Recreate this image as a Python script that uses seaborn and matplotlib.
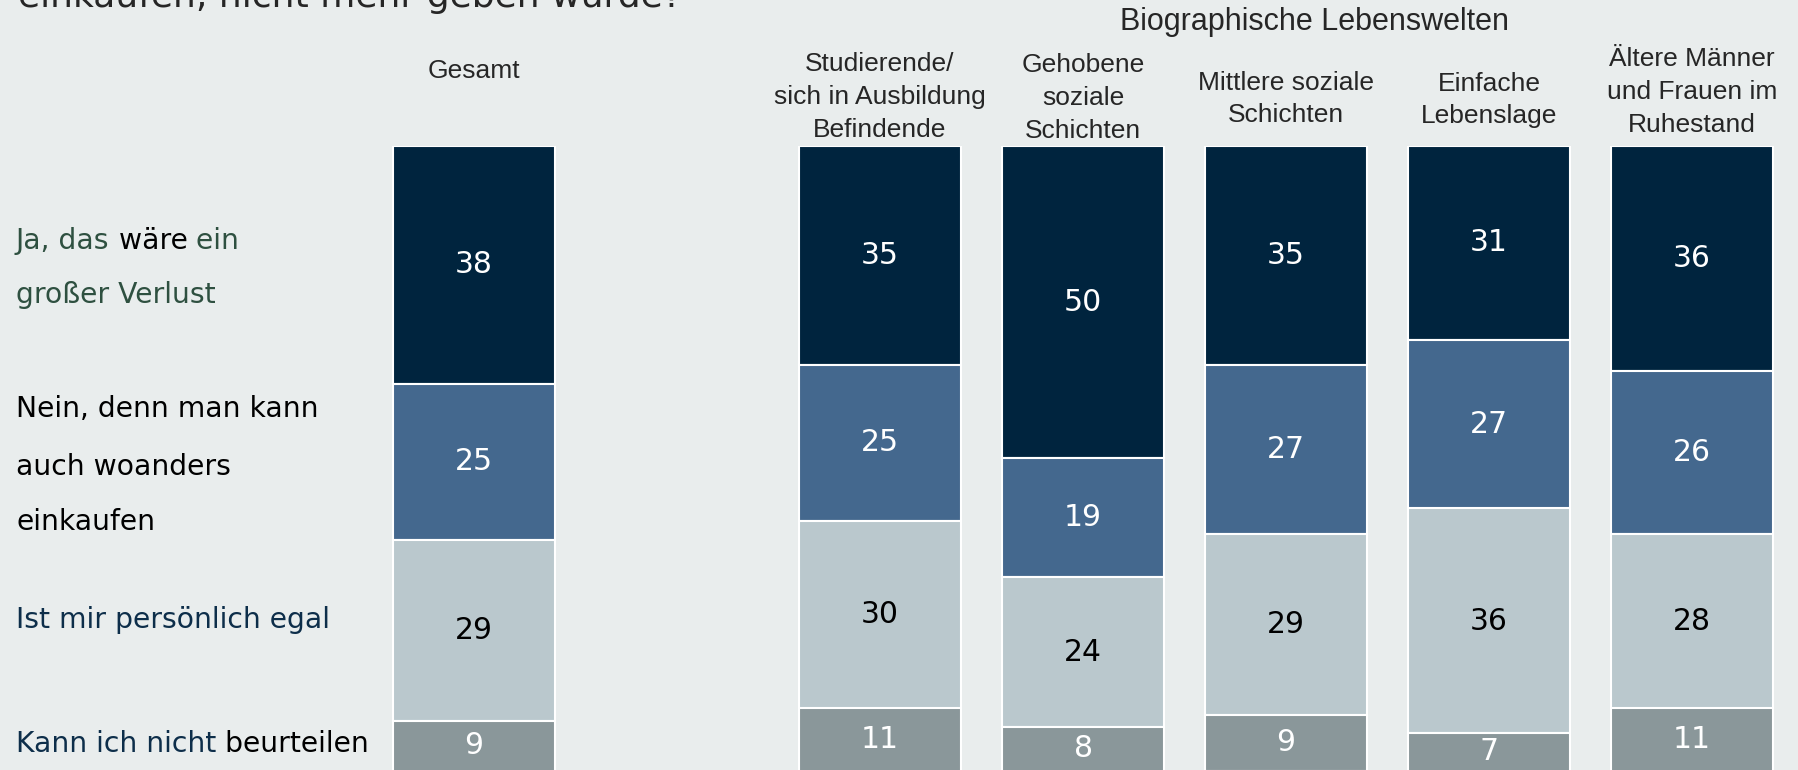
import matplotlib.pyplot as plt
import pandas as pd
import seaborn as sns

# data (percent)
groups = [
    "Gesamt",
    "Studierende/\nsich in Ausbildung\nBefindende",
    "Gehobene\nsoziale\nSchichten",
    "Mittlere soziale\nSchichten",
    "Einfache\nLebenslage",
    "Ältere Männer\nund Frauen im\nRuhestand",
]
answers = ["ja", "nein", "egal", "weiss_nicht"]
ja = [38, 35, 50, 35, 31, 36]
nein = [25, 25, 19, 27, 27, 26]
egal = [29, 30, 24, 29, 36, 28]
weiss_nicht = [9, 11, 8, 9, 7, 11]

title_rest = "einkaufen, nicht mehr geben würde?"
group_title = "Biographische Lebenswelten"

GREEN = "#2e5040"
NAVY_TXT = "#0d2e4a"
legend_lines = [
    [("Ja, das", GREEN), (" wäre", "black"), (" ein", GREEN)],
    [("großer Verlust", GREEN)],
    [("Nein, denn man kann", "black")],
    [("auch woanders", "black")],
    [("einkaufen", "black")],
    [("Ist mir persönlich egal", NAVY_TXT)],
    [("Kann ich nicht", NAVY_TXT), (" beurteilen", "black")],
]

# layout
W, H = 1798, 770
slots = [0, 2, 3, 4, 5, 6]
colors = ["#00243e", "#44688e", "#bac8cd", "#8a979a"]
label_colors = ["white", "white", "black", "white"]
legend_y = [241, 295, 409, 467, 522, 620, 744]
header_y = [71, 97, 98, 99, 100, 92]
BG = "#e9eded"
HEAD_FONT = ["Liberation Sans", "DejaVu Sans"]

sns.set_style("white")
plt.rcParams["font.family"] = ["DejaVu Sans"]

fig = plt.figure(figsize=(W / 100, H / 100), dpi=100, facecolor=BG)
top_px = 146
ax = fig.add_axes([0, 0, 1, (H - top_px) / H])
ax.set_facecolor(BG)

series = dict(ja=ja, nein=nein, egal=egal, weiss_nicht=weiss_nicht)
df = pd.DataFrame(
    [
        dict(group=g, pos=s, answer=a, value=series[a][i])
        for a in answers
        for i, (g, s) in enumerate(zip(groups, slots))
    ]
)

bottom = [0] * len(groups)
for k, a in enumerate(answers):
    sub = df[df["answer"] == a].sort_values("pos")
    sns.barplot(
        data=sub, x="pos", y="value", native_scale=True, bottom=bottom,
        color=colors[k], saturation=1, width=0.8, errorbar=None,
        edgecolor="white", linewidth=1.5, ax=ax,
    )
    cont = ax.containers[-1]
    ax.bar_label(cont, labels=[str(v) for v in sub["value"]], label_type="center",
                 color=label_colors[k], fontsize=21.5)
    bottom = [b + v for b, v in zip(bottom, sub["value"])]

px_per = 6.25
ax.set_ylim((H - top_px) / px_per, 0)
slot_px = 203.0
x0 = 474.0
ax.set_xlim(-x0 / slot_px, (W - x0) / slot_px)
ax.axis("off")

# column headers
for g, s, yp in zip(groups, slots, header_y):
    xf = (x0 + s * slot_px) / W
    fig.text(xf, 1 - yp / H, g, ha="center", va="center", fontsize=19,
             family=HEAD_FONT, linespacing=1.45)

fig.text(1314 / W, 1 - 22 / H, group_title, ha="center", va="center", fontsize=22,
         family=HEAD_FONT)

# cut-off question text at the top
fig.text(18 / W, 1 - 7 / H, title_rest, ha="left", va="baseline", fontsize=26)

# answer labels on the left, partly two-coloured
for line, yp in zip(legend_lines, legend_y):
    prev = None
    for txt, col in line:
        if prev is None:
            prev = fig.text(16 / W, 1 - yp / H, txt, color=col, fontsize=20.3,
                            ha="left", va="center")
        else:
            prev = ax.annotate(txt, xy=(1, 0), xycoords=prev, color=col,
                               fontsize=20.3, ha="left", va="bottom")

fig.savefig("out.png", dpi=100, facecolor=BG)
